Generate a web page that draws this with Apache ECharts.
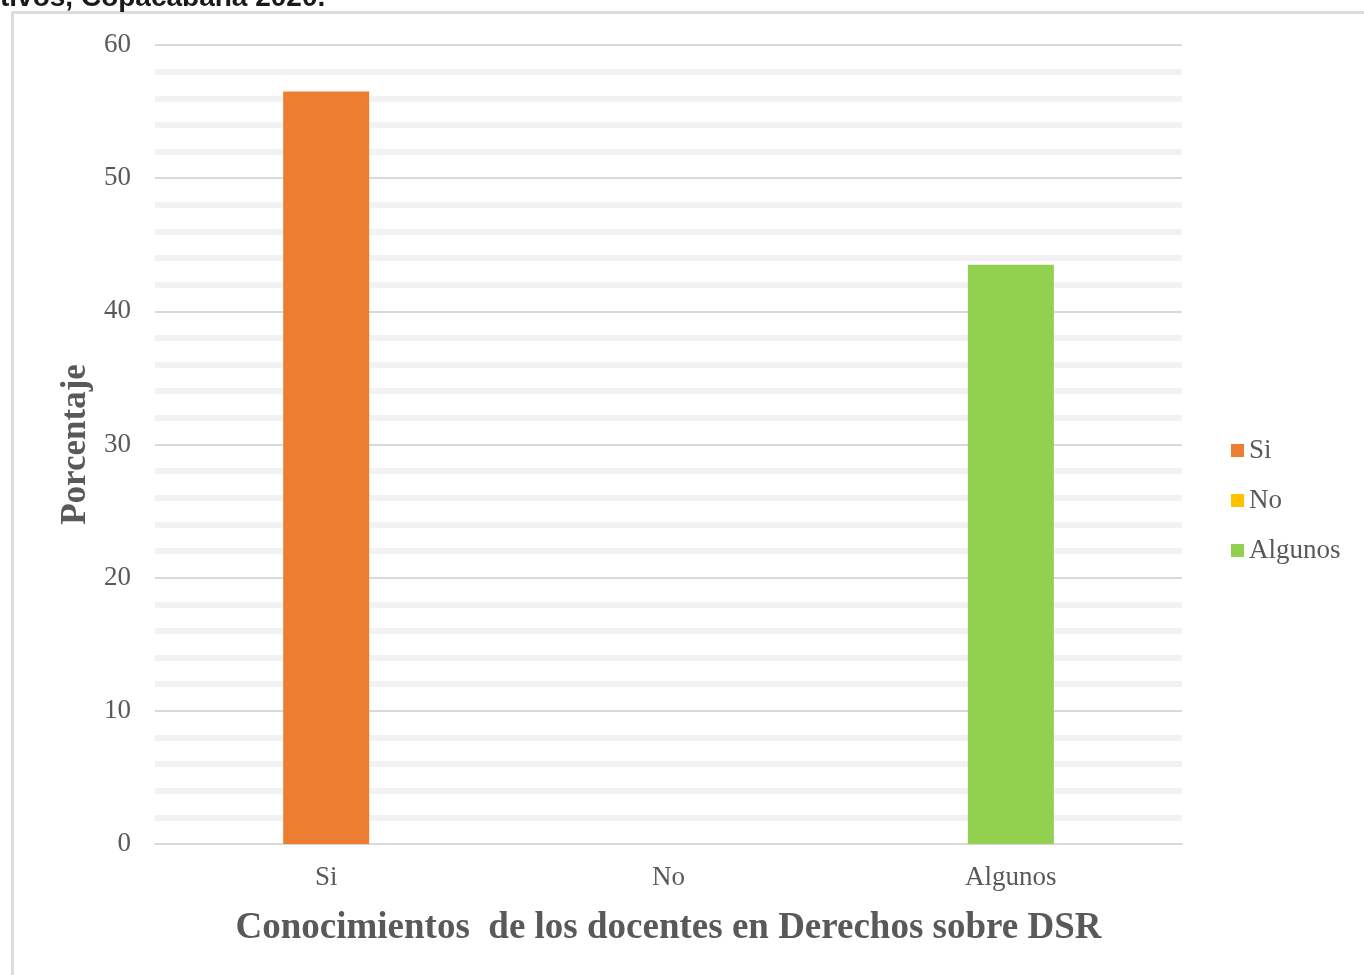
<!DOCTYPE html>
<html>
<head>
<meta charset="utf-8">
<script src="https://cdn.jsdelivr.net/npm/echarts@6/dist/echarts.min.js"></script>
<style>
  html, body { margin: 0; padding: 0; background: #fff; }
  #chart { width: 1364px; height: 975px; }
</style>
</head>
<body>
<div id="chart"></div>
<script>
// Categories and survey percentages
const categories = ['Si', 'No', 'Algunos'];
const seriesNames = ['Si', 'No', 'Algunos'];
const siValues = [56.5, null, null];
const noValues = [null, 0, null];
const algunosValues = [null, null, 43.5];
const seriesColors = ['#ED7D31', '#FFC000', '#92D050'];

const textGray = '#595959';
const serif = '"Liberation Serif", "Times New Roman", serif';

const chart = echarts.init(document.getElementById('chart'));

function barSeries(name, data, color) {
  return {
    name: name,
    type: 'bar',
    data: data,
    barWidth: 86,
    barGap: '-100%',
    itemStyle: { color: color },
    z: 3
  };
}

chart.setOption({
  animation: false,
  backgroundColor: '#fff',
  grid: { left: 155, right: 182, top: 45, bottom: 131, containLabel: false },
  legend: {
    orient: 'vertical',
    left: 1226,
    top: 432,
    itemWidth: 13,
    itemHeight: 13,
    itemGap: 23,
    icon: 'rect',
    textStyle: { fontFamily: serif, fontSize: 27, color: textGray, padding: [0, 0, 0, 0] },
    data: seriesNames
  },
  xAxis: {
    type: 'category',
    data: categories,
    axisTick: { show: false },
    axisLine: { lineStyle: { color: '#d9d9d9', width: 2 } },
    axisLabel: { fontFamily: serif, fontSize: 27, color: textGray, margin: 20 },
    name: 'Conocimientos  de los docentes en Derechos sobre DSR',
    nameLocation: 'middle',
    nameGap: 66,
    nameTextStyle: { fontFamily: serif, fontSize: 37, fontWeight: 'bold', color: textGray }
  },
  yAxis: {
    type: 'value',
    min: 0,
    max: 60,
    interval: 10,
    axisLine: { show: false },
    axisTick: { show: false },
    axisLabel: { fontFamily: serif, fontSize: 27, color: textGray, margin: 24 },
    splitLine: { lineStyle: { color: '#d9d9d9', width: 2 } },
    minorTick: { show: false, splitNumber: 5 },
    minorSplitLine: { show: true, lineStyle: { color: '#f2f2f2', width: 6 } },
    name: 'Porcentaje',
    nameLocation: 'middle',
    nameGap: 62,
    nameRotate: 90,
    nameTextStyle: { fontFamily: serif, fontSize: 35, fontWeight: 'bold', color: textGray }
  },
  graphic: [
    { type: 'rect', left: 11, top: 11, shape: { width: 3, height: 964 }, style: { fill: '#dcdcdc' }, silent: true },
    { type: 'rect', left: 11, top: 11, shape: { width: 1353, height: 3 }, style: { fill: '#dcdcdc' }, silent: true },
    {
      type: 'text',
      x: 0,
      y: 12,
      style: {
        text: 'tivos, Copacabana 2020.',
        font: 'bold 28px "Liberation Sans", Arial, sans-serif',
        lineHeight: 28,
        fill: '#1a1a1a',
        verticalAlign: 'bottom'
      },
      silent: true
    }
  ],
  series: [
    barSeries(seriesNames[0], siValues, seriesColors[0]),
    barSeries(seriesNames[1], noValues, seriesColors[1]),
    barSeries(seriesNames[2], algunosValues, seriesColors[2])
  ]
});
</script>
</body>
</html>
